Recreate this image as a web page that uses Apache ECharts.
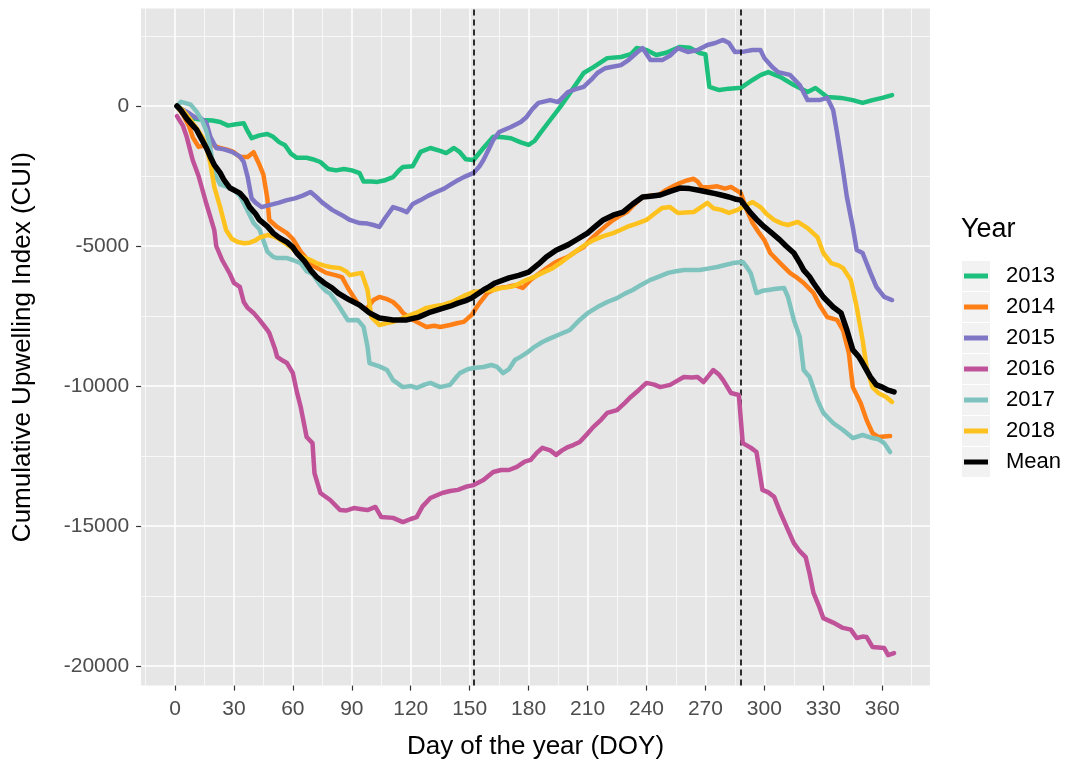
<!DOCTYPE html>
<html>
<head>
<meta charset="utf-8">
<script src="https://cdn.jsdelivr.net/npm/echarts@6/dist/echarts.min.js"></script>
<style>
html,body{margin:0;padding:0;background:#fff;}
#chart{width:1066px;height:759px;}
</style>
</head>
<body>
<div id="chart"></div>
<script>
const seriesNames = ['2013','2014','2015','2016','2017','2018','Mean'];
const xTickValues = [0,30,60,90,120,150,180,210,240,270,300,330,360];
const yTickValues = [-20000,-15000,-10000,-5000,0];
const dashedDays = [152, 288];

const y2013 = [[1,0],[4,-150],[8,-420],[14,-500],[19,-520],[23,-570],[27,-700],[31,-650],[35,-620],[37,-900],[39,-1150],[43,-1050],[47,-1000],[50,-1100],[53,-1290],[56,-1400],[59,-1700],[62,-1850],[67,-1850],[70,-1900],[74,-2000],[78,-2250],[82,-2300],[86,-2250],[90,-2300],[94,-2400],[96,-2700],[100,-2700],[103,-2710],[107,-2650],[111,-2540],[114,-2300],[116,-2180],[121,-2150],[125,-1640],[130,-1500],[135,-1600],[138,-1680],[142,-1500],[145,-1650],[148,-1900],[152,-1930],[157,-1500],[162,-1100],[167,-1120],[171,-1150],[176,-1300],[180,-1390],[183,-1250],[186,-960],[191,-500],[196,-40],[201,460],[208,1180],[213,1390],[220,1710],[227,1750],[232,1850],[235,2070],[240,2000],[245,1820],[250,1900],[257,2110],[262,2080],[267,1890],[270,1850],[272,680],[277,570],[282,620],[288,650],[294,930],[298,1100],[302,1210],[308,1040],[315,750],[322,500],[326,640],[332,320],[339,290],[345,210],[350,110],[355,210],[360,290],[365,390]];

const y2014 = [[1,0],[4,-300],[7,-700],[9,-1110],[12,-1460],[16,-1400],[19,-1390],[23,-1500],[27,-1570],[30,-1650],[33,-1820],[37,-1820],[40,-1650],[43,-2100],[45,-2450],[47,-3300],[48,-4070],[52,-4320],[57,-4540],[60,-4750],[64,-5200],[70,-5700],[77,-5960],[82,-6050],[85,-6110],[88,-6500],[93,-7040],[97,-7290],[101,-6930],[104,-6820],[108,-6900],[111,-7000],[114,-7200],[116,-7390],[120,-7600],[123,-7710],[128,-7890],[132,-7850],[135,-7890],[140,-7820],[144,-7750],[147,-7710],[151,-7460],[155,-7040],[159,-6680],[162,-6570],[165,-6500],[169,-6460],[173,-6400],[177,-6500],[181,-6210],[185,-6000],[189,-5800],[193,-5610],[196,-5500],[200,-5390],[204,-5200],[208,-5040],[211,-4800],[215,-4540],[219,-4300],[223,-4070],[227,-3900],[230,-3790],[234,-3500],[238,-3250],[242,-3200],[246,-3180],[250,-3000],[254,-2850],[257,-2750],[261,-2650],[264,-2600],[266,-2700],[268,-2890],[272,-2900],[276,-2870],[280,-2950],[283,-2890],[288,-3110],[291,-3710],[294,-4180],[297,-4500],[300,-4790],[303,-5250],[308,-5610],[313,-5960],[316,-6100],[320,-6320],[325,-6680],[328,-7100],[332,-7540],[337,-7640],[340,-8000],[343,-8820],[345,-10040],[349,-10610],[352,-11210],[355,-11680],[358,-11820],[361,-11800],[364,-11790]];

const y2015 = [[1,0],[3,-100],[7,-250],[10,-400],[13,-430],[16,-600],[18,-1100],[21,-1500],[25,-1550],[29,-1640],[33,-1800],[35,-2000],[37,-2540],[39,-3300],[41,-3450],[44,-3610],[48,-3540],[53,-3450],[57,-3360],[61,-3300],[65,-3200],[69,-3070],[72,-3250],[75,-3450],[80,-3710],[85,-3900],[89,-4070],[94,-4180],[98,-4200],[101,-4250],[104,-4320],[107,-4000],[111,-3610],[115,-3700],[118,-3790],[121,-3500],[125,-3360],[129,-3200],[133,-3070],[137,-2950],[140,-2820],[144,-2650],[147,-2540],[152,-2390],[155,-2150],[157,-1930],[160,-1500],[162,-1210],[165,-930],[171,-750],[176,-570],[179,-390],[182,-100],[185,110],[191,210],[195,140],[200,500],[204,600],[208,680],[212,950],[215,1180],[219,1350],[222,1390],[227,1460],[231,1650],[235,1900],[238,2070],[242,1640],[248,1640],[252,1800],[256,2070],[261,1930],[266,2000],[271,2180],[275,2250],[279,2360],[282,2250],[285,1930],[290,1950],[294,2000],[298,2000],[300,1710],[304,1390],[307,1210],[313,1110],[318,750],[322,210],[328,210],[332,290],[335,-140],[337,-960],[340,-2290],[342,-3250],[345,-4320],[347,-5140],[350,-5250],[354,-5960],[357,-6460],[361,-6820],[365,-6930]];

const y2016 = [[1,-360],[4,-700],[6,-1110],[9,-1930],[12,-2500],[14,-3000],[16,-3500],[18,-3960],[20,-4430],[21,-5000],[24,-5500],[26,-5750],[28,-6000],[30,-6320],[33,-6460],[35,-7000],[37,-7210],[40,-7390],[43,-7640],[47,-8000],[48,-8110],[51,-8700],[52,-8960],[55,-9100],[57,-9180],[60,-9540],[62,-10200],[64,-10750],[67,-11820],[70,-12040],[71,-13110],[74,-13820],[79,-14070],[84,-14430],[87,-14450],[91,-14360],[95,-14400],[98,-14430],[102,-14320],[105,-14680],[111,-14710],[116,-14860],[120,-14750],[123,-14680],[126,-14300],[130,-14000],[136,-13820],[140,-13750],[144,-13710],[148,-13600],[152,-13540],[157,-13360],[162,-13070],[166,-13000],[170,-13000],[174,-12890],[178,-12700],[181,-12640],[184,-12400],[187,-12210],[191,-12300],[194,-12460],[197,-12300],[200,-12180],[203,-12100],[206,-12000],[210,-11700],[213,-11460],[217,-11200],[220,-10960],[225,-10860],[229,-10600],[232,-10390],[236,-10150],[240,-9890],[244,-9950],[247,-10040],[252,-9960],[256,-9800],[259,-9680],[263,-9700],[266,-9680],[269,-9860],[272,-9600],[274,-9430],[277,-9600],[279,-9790],[283,-10250],[287,-10320],[289,-12040],[293,-12200],[296,-12360],[299,-13710],[302,-13800],[305,-13960],[308,-14500],[312,-15140],[315,-15610],[318,-15900],[321,-16110],[323,-16700],[325,-17390],[328,-17900],[330,-18290],[335,-18450],[340,-18640],[344,-18700],[347,-19000],[350,-18950],[352,-18960],[355,-19320],[358,-19340],[361,-19360],[363,-19610],[366,-19540]];

const y2017 = [[1,0],[3,150],[5,110],[8,50],[11,-200],[14,-550],[16,-900],[18,-1500],[20,-2400],[23,-2800],[27,-2900],[30,-3000],[33,-3200],[37,-3750],[40,-4180],[43,-4400],[47,-5200],[50,-5390],[52,-5430],[57,-5430],[60,-5500],[64,-5610],[67,-5900],[70,-6000],[74,-6400],[77,-6620],[79,-6700],[83,-7100],[88,-7650],[93,-7640],[96,-7890],[98,-8600],[99,-9180],[104,-9300],[108,-9430],[111,-9790],[116,-10040],[120,-10000],[123,-10070],[127,-9950],[130,-9890],[135,-10040],[140,-9960],[143,-9700],[145,-9540],[149,-9400],[152,-9360],[157,-9320],[161,-9250],[164,-9320],[167,-9540],[170,-9400],[173,-9070],[176,-8950],[179,-8820],[183,-8600],[187,-8430],[191,-8300],[195,-8180],[201,-8000],[206,-7640],[210,-7400],[215,-7180],[220,-7000],[225,-6860],[229,-6700],[233,-6570],[237,-6400],[242,-6210],[246,-6100],[251,-5960],[255,-5900],[259,-5860],[263,-5860],[267,-5860],[272,-5800],[276,-5750],[280,-5680],[284,-5610],[289,-5570],[291,-5750],[293,-5960],[296,-6680],[299,-6600],[302,-6570],[306,-6530],[310,-6500],[312,-6820],[315,-7640],[318,-8250],[320,-9430],[323,-9680],[327,-10500],[330,-10960],[335,-11320],[340,-11570],[345,-11860],[350,-11750],[355,-11860],[358,-11900],[361,-12040],[364,-12360]];

const y2018 = [[1,0],[4,-150],[8,-500],[11,-800],[14,-1110],[16,-1500],[18,-2040],[20,-2890],[23,-3610],[26,-4430],[29,-4750],[32,-4860],[35,-4900],[38,-4880],[41,-4800],[43,-4700],[47,-4610],[50,-4650],[52,-4710],[55,-4850],[59,-5040],[62,-5250],[65,-5390],[69,-5500],[72,-5610],[76,-5700],[79,-5750],[84,-5790],[87,-5900],[89,-6040],[92,-6000],[95,-5960],[98,-6570],[100,-7540],[104,-7820],[108,-7750],[111,-7710],[115,-7600],[120,-7460],[124,-7350],[128,-7210],[132,-7150],[136,-7110],[141,-7000],[145,-6860],[148,-6750],[152,-6640],[157,-6600],[162,-6570],[166,-6500],[171,-6460],[175,-6350],[179,-6210],[183,-6100],[187,-5960],[192,-5800],[196,-5610],[200,-5400],[205,-5140],[209,-4950],[213,-4790],[218,-4650],[223,-4540],[227,-4420],[230,-4320],[235,-4200],[240,-4070],[244,-3850],[248,-3640],[252,-3610],[256,-3820],[260,-3800],[264,-3790],[268,-3600],[271,-3460],[274,-3650],[278,-3710],[282,-3820],[286,-3720],[289,-3610],[292,-3500],[294,-3430],[298,-3610],[301,-3850],[305,-4070],[309,-4200],[312,-4250],[317,-4140],[322,-4360],[327,-4680],[330,-5250],[334,-5610],[338,-5700],[340,-5790],[344,-6210],[347,-7180],[350,-8360],[352,-9320],[355,-10040],[358,-10250],[362,-10390],[365,-10570]];

const yMean = [[1,0],[3,-150],[6,-450],[8,-610],[11,-850],[13,-1110],[16,-1500],[18,-1820],[20,-2100],[23,-2390],[25,-2650],[28,-2930],[30,-3000],[33,-3110],[36,-3350],[38,-3610],[41,-3850],[43,-4070],[47,-4300],[50,-4540],[53,-4700],[57,-4860],[60,-5050],[62,-5250],[66,-5550],[69,-5860],[72,-6100],[76,-6320],[80,-6500],[83,-6680],[87,-6850],[89,-6930],[94,-7110],[99,-7390],[104,-7570],[111,-7640],[118,-7640],[124,-7540],[130,-7360],[137,-7210],[140,-7150],[144,-7040],[148,-6950],[151,-6860],[157,-6570],[160,-6450],[163,-6320],[170,-6140],[175,-6050],[180,-5930],[185,-5650],[189,-5390],[194,-5150],[200,-4960],[205,-4750],[210,-4540],[214,-4300],[218,-4070],[223,-3900],[228,-3790],[233,-3500],[238,-3250],[242,-3220],[247,-3180],[252,-3050],[257,-2930],[262,-2950],[266,-3000],[271,-3070],[275,-3130],[278,-3180],[282,-3250],[285,-3320],[288,-3360],[290,-3550],[293,-3820],[296,-4050],[300,-4320],[304,-4550],[308,-4790],[311,-5000],[315,-5250],[318,-5600],[320,-5860],[323,-6100],[325,-6320],[330,-6820],[335,-7180],[339,-7390],[342,-8000],[345,-8710],[348,-8950],[350,-9180],[354,-9680],[357,-9960],[360,-10040],[363,-10150],[366,-10210]];

const seriesData = [y2013, y2014, y2015, y2016, y2017, y2018, yMean];
const seriesColors = ['#1DBF7C','#FF7F17','#7F77C6','#C0529A','#7FC3BF','#FEC21E','#000000'];
const seriesWidths = [4.5,4.5,4.5,4.5,4.5,4.5,5.5];

const FONT = "'Liberation Sans', Arial, Helvetica, sans-serif";
const chart = echarts.init(document.getElementById('chart'), null, {renderer:'canvas'});

const series = seriesNames.map((name, i) => {
  const s = {
    name: name,
    type: 'line',
    data: seriesData[i],
    showSymbol: false,
    symbol: 'none',
    color: seriesColors[i],
    lineStyle: { width: seriesWidths[i], color: seriesColors[i], join: 'round', cap: 'round' },
    z: 2 + i,
    silent: true
  };
  if (name === 'Mean') {
    s.markLine = {
      silent: true,
      symbol: 'none',
      label: { show: false },
      lineStyle: { color: '#000', type: [6, 4], width: 1.6 },
      data: dashedDays.map(d => ({ xAxis: d }))
    };
  }
  return s;
});

chart.setOption({
  animation: false,
  backgroundColor: '#ffffff',
  textStyle: { fontFamily: FONT },
  title: {
    text: 'Year',
    left: 961,
    top: 216,
    padding: 0,
    textStyle: { fontSize: 27, fontWeight: 'normal', color: '#000', fontFamily: FONT }
  },
  grid: {
    left: 141.1,
    right: 136.1,
    top: 8.56,
    bottom: 73.4,
    show: true,
    backgroundColor: '#E6E6E6',
    borderWidth: 0,
    containLabel: false,
    outerBoundsMode: 'none'
  },
  legend: [
    {
      orient: 'vertical',
      left: 962,
      top: 261,
      itemWidth: 28,
      itemHeight: 30,
      itemGap: 1,
      icon: 'rect',
      selectedMode: false,
      padding: 0,
      itemStyle: { borderWidth: 0 },
      data: seriesNames.map(n => ({ name: n, itemStyle: { color: '#F2F2F2', borderWidth: 0 } })),
      formatter: () => '',
      textStyle: { fontSize: 1, color: 'rgba(0,0,0,0)' },
      z: 1
    },
    {
      orient: 'vertical',
      left: 964,
      top: 261,
      itemWidth: 24,
      itemHeight: 5,
      itemGap: 1,
      icon: 'rect',
      selectedMode: false,
      padding: 0,
      itemStyle: { borderWidth: 0 },
      data: seriesNames,
      textStyle: { fontSize: 22, lineHeight: 30, color: '#000', fontFamily: FONT, padding: [0, 0, 0, 13] },
      z: 5
    }
  ],
  xAxis: {
    type: 'value',
    min: -17.25,
    max: 384.25,
    splitNumber: 13,
    name: 'Day of the year (DOY)',
    nameLocation: 'middle',
    nameGap: 48,
    nameTextStyle: { fontSize: 26, color: '#000', fontFamily: FONT },
    axisLine: { show: false, onZero: false },
    axisTick: { show: true, length: 5, lineStyle: { color: '#333', width: 1.2 }, customValues: xTickValues },
    axisLabel: { customValues: xTickValues, fontSize: 21, color: '#4D4D4D', margin: 13, fontFamily: FONT },
    splitLine: { show: true, lineStyle: { color: '#FFFFFF', width: 1.5 } },
    minorTick: { show: false, splitNumber: 2 },
    minorSplitLine: { show: true, lineStyle: { color: '#FFFFFF', width: 0.7 } }
  },
  yAxis: {
    type: 'value',
    min: -20700,
    max: 3480,
    splitNumber: 5,
    name: 'Cumulative Upwelling Index (CUI)',
    nameLocation: 'middle',
    nameRotate: 90,
    nameGap: 105,
    nameTextStyle: { fontSize: 26, color: '#000', fontFamily: FONT },
    axisLine: { show: false, onZero: false },
    axisTick: { show: true, length: 5, lineStyle: { color: '#333', width: 1.2 }, customValues: yTickValues },
    axisLabel: { customValues: yTickValues, fontSize: 21, color: '#4D4D4D', margin: 12, fontFamily: FONT, formatter: v => String(v) },
    splitLine: { show: true, lineStyle: { color: '#FFFFFF', width: 1.5 } },
    minorTick: { show: false, splitNumber: 2 },
    minorSplitLine: { show: true, lineStyle: { color: '#FFFFFF', width: 0.7 } }
  },
  series: series
});
</script>
</body>
</html>
